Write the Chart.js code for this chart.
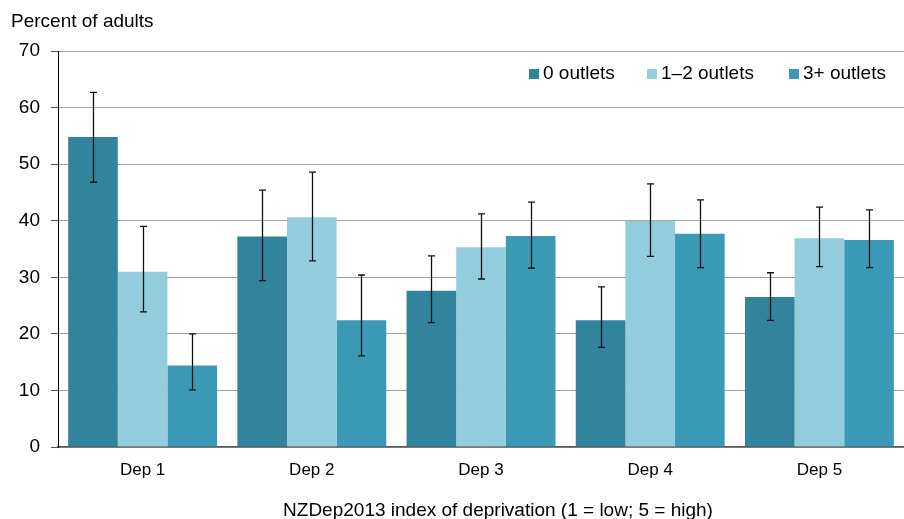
<!DOCTYPE html>
<html>
<head>
<meta charset="utf-8">
<script src="https://cdn.jsdelivr.net/npm/chart.js@4/dist/chart.umd.min.js"></script>
<style>
  html, body { margin: 0; padding: 0; background: #fff; }
  #wrap { width: 904px; height: 519px; position: relative; }
</style>
</head>
<body>
<div id="wrap"><canvas id="c"></canvas></div>
<script>
// Deprivation quintiles
const categories = ['Dep 1', 'Dep 2', 'Dep 3', 'Dep 4', 'Dep 5'];

// Series labels
const seriesNames = ['0 outlets', '1\u20132 outlets', '3+ outlets'];

// Percent of adults, by number of outlets nearby
const zeroOutlets = [54.8, 37.2, 27.6, 22.4, 26.5];
const oneTwoOutlets = [31.0, 40.6, 35.3, 40.0, 36.9];
const threePlusOutlets = [14.4, 22.4, 37.3, 37.7, 36.6];

// 95% confidence intervals (lower, upper)
const zeroLow = [46.8, 29.4, 22.0, 17.6, 22.4];
const zeroHigh = [62.7, 45.4, 33.8, 28.3, 30.8];
const oneTwoLow = [23.9, 32.9, 29.7, 33.7, 31.9];
const oneTwoHigh = [39.0, 48.6, 41.2, 46.5, 42.4];
const threePlusLow = [10.1, 16.1, 31.6, 31.7, 31.7];
const threePlusHigh = [20.0, 30.4, 43.3, 43.7, 41.9];

// y-axis ticks
const yTicks = [0, 10, 20, 30, 40, 50, 60, 70];

const yTitle = 'Percent of adults';
const xTitle = 'NZDep2013 index of deprivation (1 = low; 5 = high)';

const colors = ['#31849b', '#93cddd', '#3a9ab6'];
const FONT = '"Liberation Sans", Arial, sans-serif';

const intervals = [
  [zeroLow, zeroHigh],
  [oneTwoLow, oneTwoHigh],
  [threePlusLow, threePlusHigh]
];

// Draws confidence-interval whiskers on each bar
const errorBars = {
  id: 'errorBars',
  afterDatasetsDraw(chart) {
    const ctx = chart.ctx;
    const y = chart.scales.y;
    ctx.save();
    ctx.strokeStyle = '#111';
    ctx.lineWidth = 1.3;
    chart.data.datasets.forEach((ds, i) => {
      const meta = chart.getDatasetMeta(i);
      const [lo, hi] = intervals[i];
      meta.data.forEach((bar, j) => {
        const x = Math.round(bar.x) + 0.5;
        const yl = y.getPixelForValue(lo[j]);
        const yh = y.getPixelForValue(hi[j]);
        ctx.beginPath();
        ctx.moveTo(x, yh); ctx.lineTo(x, yl);
        ctx.moveTo(x - 3.5, yh); ctx.lineTo(x + 3.5, yh);
        ctx.moveTo(x - 3.5, yl); ctx.lineTo(x + 3.5, yl);
        ctx.stroke();
      });
    });
    ctx.restore();
  }
};

// Axis titles and in-plot legend
const annotations = {
  id: 'annotations',
  afterDraw(chart) {
    const ctx = chart.ctx;
    ctx.save();
    ctx.fillStyle = '#000';
    ctx.font = '19px ' + FONT;
    ctx.textAlign = 'left';
    ctx.textBaseline = 'alphabetic';
    ctx.fillText(yTitle, 11, 27);
    ctx.textAlign = 'center';
    ctx.fillText(xTitle, 498, 516);

    // legend
    const boxX = [529, 647, 789];
    ctx.font = '19px ' + FONT;
    ctx.textAlign = 'left';
    ctx.textBaseline = 'middle';
    chart.data.datasets.forEach((ds, i) => {
      ctx.fillStyle = colors[i];
      ctx.fillRect(boxX[i], 69, 10, 10);
      ctx.fillStyle = '#000';
      ctx.fillText(ds.label, boxX[i] + 14, 74);
    });
    ctx.restore();
  }
};

new Chart(document.getElementById('c'), {
  type: 'bar',
  data: {
    labels: categories,
    datasets: [
      { label: seriesNames[0], data: zeroOutlets, backgroundColor: colors[0] },
      { label: seriesNames[1], data: oneTwoOutlets, backgroundColor: colors[1] },
      { label: seriesNames[2], data: threePlusOutlets, backgroundColor: colors[2] }
    ]
  },
  options: {
    responsive: true,
    maintainAspectRatio: false,
    animation: false,
    devicePixelRatio: 1,
    layout: { padding: { top: 51, right: 0, bottom: 0, left: 0 } },
    datasets: {
      bar: { categoryPercentage: 0.88, barPercentage: 1.0, borderWidth: 0 }
    },
    plugins: {
      legend: { display: false },
      tooltip: { enabled: false },
      title: { display: false }
    },
    scales: {
      x: {
        grid: { display: false, drawTicks: false },
        border: { display: true, color: '#555', width: 1.5 },
        ticks: { color: '#000', font: { family: FONT, size: 17 }, padding: 13 },
        afterFit(scale) { scale.height = 72; }
      },
      y: {
        min: 0,
        max: 70,
        afterBuildTicks(scale) { scale.ticks = yTicks.map(v => ({ value: v })); },
        grid: { color: '#a0a0a0', lineWidth: 1, tickLength: 7, tickColor: '#555' },
        border: { display: true, color: '#000', width: 1 },
        ticks: { color: '#000', font: { family: FONT, size: 19 }, padding: 11 },
        afterFit(scale) { scale.width = 58; }
      }
    }
  },
  plugins: [errorBars, annotations]
});
</script>
</body>
</html>
